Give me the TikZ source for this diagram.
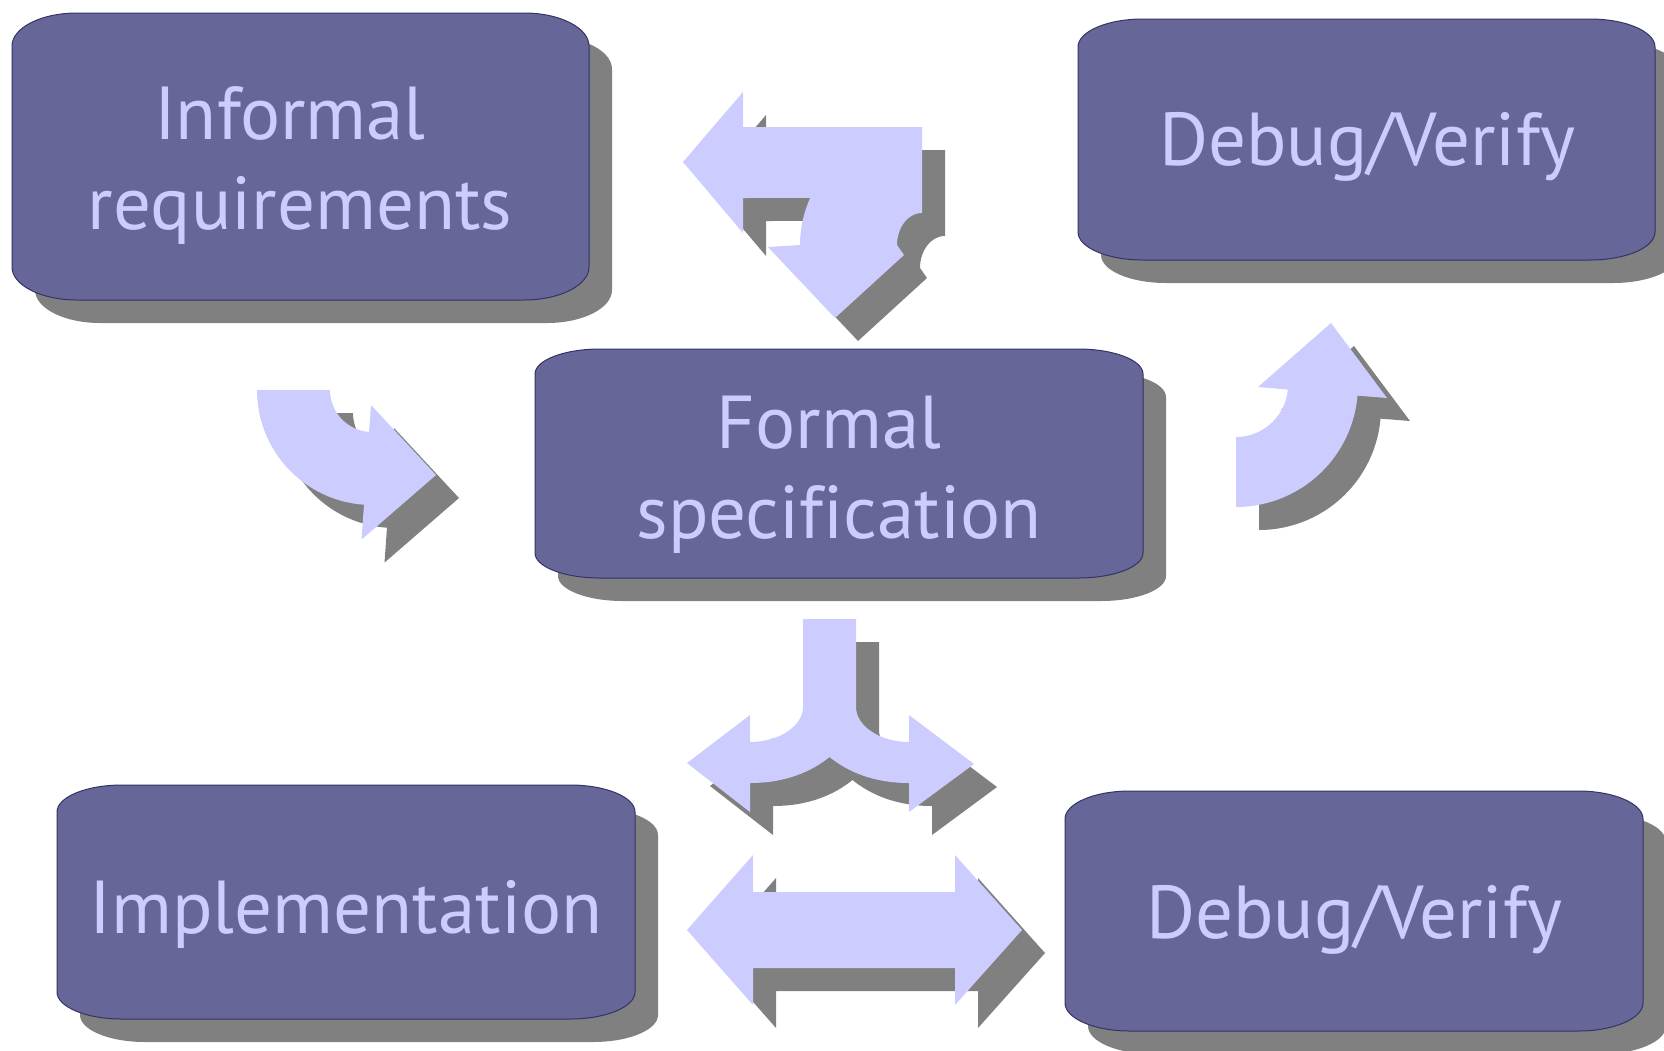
\documentclass[tikz,border=0pt]{standalone}
\usepackage{fontspec}
\setmainfont{PT Sans}[Ligatures=NoCommon]
\definecolor{cbox}{HTML}{666699}
\definecolor{cedge}{HTML}{333366}
\definecolor{carrow}{HTML}{CCCCFF}
\definecolor{cshadow}{HTML}{808080}
\tikzset{
  every picture/.style={x=0.5pt, y=-0.5pt},
  panel/.style={fill=cbox, draw=cedge, line width=0.5pt},
  panelshadow/.style={fill=cshadow, shift={(23,23)}},
  boxtext/.style={text=carrow, font=\fontsize{37.5}{45}\selectfont, align=center, inner sep=0pt},
}
% rounded panel: x1, y1, x2, y2, corner height, style
\newcommand{\roundedpanel}[6]{%
  \path[#6] (#1,#2+#5) .. controls (#1,#2+0.45*#5) and (#1+29,#2) .. (#1+65,#2)
    -- (#3-65,#2) .. controls (#3-29,#2) and (#3,#2+0.45*#5) .. (#3,#2+#5)
    -- (#3,#4-#5) .. controls (#3,#4-0.45*#5) and (#3-29,#4) .. (#3-65,#4)
    -- (#1+65,#4) .. controls (#1+29,#4) and (#1,#4-0.45*#5) .. (#1,#4-#5) -- cycle;}

\begin{document}
\begin{tikzpicture}
  \useasboundingbox (0,0) rectangle (1664,1050);
  \clip (0,0) rectangle (1664,1050);
  \foreach \xa/\ya/\xb/\yb/\ry in {12/13/589/300/33, 1078/19/1655/260/28, 535/349/1143/578/25, 57/785/635/1019/27, 1065/791/1643/1031/28} {
    \roundedpanel{\xa}{\ya}{\xb}{\yb}{\ry}{panelshadow}
    \roundedpanel{\xa}{\ya}{\xb}{\yb}{\ry}{panel}
  }
  \node[boxtext] (informal) at (300,166) {Informal\hphantom{\ }\\requirements};
  \node[boxtext] (verifytop) at (1367,147) {Debug/Verify};
  \node[boxtext] (formal) at (839,475) {Formal\hphantom{\ }\\specification};
  \node[boxtext] (impl) at (346,914) {Implementation};
  \node[boxtext] (verifybot) at (1354,920) {Debug/Verify};
  \foreach \d/\col in {23/cshadow, 0/carrow} {
    \fill[fill=\col, shift={(\d,\d)}] (683,162) -- (743,92) -- (743,127) -- (922,127) -- (922,213)
      -- plot[domain=270:180, samples=25] ({922+25*cos(\x)},{245+32*sin(\x)})
      -- (904,255) -- (835,318) -- (768,247)
      -- plot[domain=180:203.5, samples=10] ({922+122*cos(\x)},{245+118*sin(\x)})
      -- (743,198) -- (743,233) -- cycle;
    \fill[fill=\col, shift={(\d,\d)}] plot[domain=180:94, samples=30] ({372+115*cos(\x)},{390+115*sin(\x)})
      -- (361.5,539.6) -- (436,475) -- (371,405)
      -- plot[domain=94:180, samples=20] ({372+42*cos(\x)},{390+42*sin(\x)}) -- cycle;
    \fill[fill=\col, shift={(\d,\d)}] plot[domain=90:5, samples=30] ({1236+122*cos(\x)},{385+122*sin(\x)})
      -- (1387,398) -- (1331,323) -- (1258,387)
      -- plot[domain=5:90, samples=20] ({1236+52*cos(\x)},{385+52*sin(\x)}) -- cycle;
    \fill[fill=\col, shift={(\d,\d)}] (803,619) -- (803,707) .. controls (803,726) and (779,742) .. (750,742)
      -- (750,715) -- (687,763) -- (750,812) -- (750,783)
      .. controls (785,783) and (811,772) .. (829.5,757)
      .. controls (848,772) and (874,783) .. (909,783)
      -- (909,812) -- (974,764) -- (909,715) -- (909,742)
      .. controls (880,742) and (856,726) .. (856,707) -- (856,619) -- cycle;
    \fill[fill=\col, shift={(\d,\d)}] (687,930) -- (753,855) -- (753,892) -- (955,892) -- (955,855)
      -- (1022,930) -- (955,1005) -- (955,968) -- (753,968) -- (753,1005) -- cycle;
  }
\end{tikzpicture}
\end{document}
